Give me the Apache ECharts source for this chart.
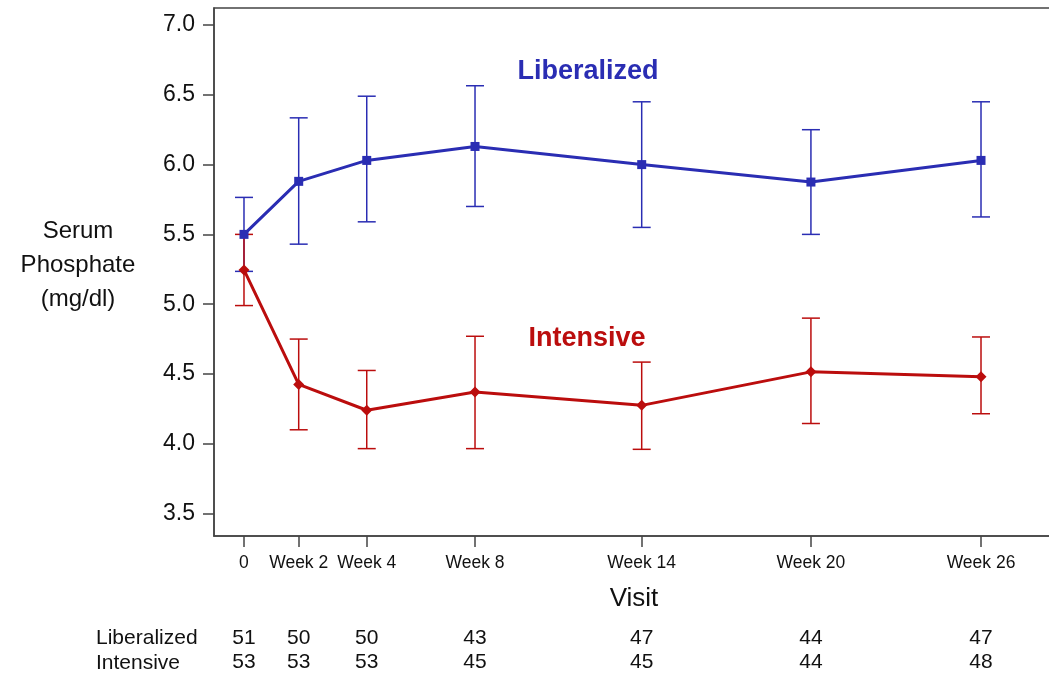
<!DOCTYPE html>
<html>
<head>
<meta charset="utf-8">
<script src="https://cdn.jsdelivr.net/npm/echarts@6/dist/echarts.min.js"></script>
<style>
html,body{margin:0;padding:0;background:#fff;}
#chart{width:1049px;height:676px;}
</style>
</head>
<body>
<div id="chart"></div>
<script>
// ---- data ----
const visitLabels = ['0', 'Week 2', 'Week 4', 'Week 8', 'Week 14', 'Week 20', 'Week 26'];
const visitPos = [0, 1.93, 4.33, 8.15, 14.03, 20, 26];
const libMean = [5.50, 5.88, 6.03, 6.13, 6.00, 5.875, 6.03];
const libLo   = [5.235, 5.43, 5.59, 5.70, 5.55, 5.50, 5.625];
const libHi   = [5.765, 6.335, 6.49, 6.565, 6.45, 6.25, 6.45];
const intMean = [5.245, 4.425, 4.24, 4.37, 4.275, 4.515, 4.48];
const intLo   = [4.99, 4.10, 3.965, 3.965, 3.96, 4.145, 4.215];
const intHi   = [5.50, 4.75, 4.525, 4.77, 4.585, 4.90, 4.765];
const libN = [51, 50, 50, 43, 47, 44, 47];
const intN = [53, 53, 53, 45, 45, 44, 48];
const yTicks = [3.5, 4.0, 4.5, 5.0, 5.5, 6.0, 6.5, 7.0];

const BLUE = '#2a2db3';
const RED = '#bb0d0d';
const FONT = 'Liberation Sans, Arial, sans-serif';

function errRender(color) {
  return function (params, api) {
    const x = api.value(0), lo = api.value(1), hi = api.value(2);
    const pLo = api.coord([x, lo]);
    const pHi = api.coord([x, hi]);
    const w = 9;
    const st = { stroke: color, lineWidth: 1.5, fill: null };
    return {
      type: 'group',
      children: [
        { type: 'line', shape: { x1: pLo[0], y1: pLo[1], x2: pHi[0], y2: pHi[1] }, style: st },
        { type: 'line', shape: { x1: pLo[0] - w, y1: pLo[1], x2: pLo[0] + w, y2: pLo[1] }, style: st },
        { type: 'line', shape: { x1: pHi[0] - w, y1: pHi[1], x2: pHi[0] + w, y2: pHi[1] }, style: st }
      ]
    };
  };
}

const libErr = visitPos.map((x, i) => [x, libLo[i], libHi[i]]);
const intErr = visitPos.map((x, i) => [x, intLo[i], intHi[i]]);
const libLine = visitPos.map((x, i) => [x, libMean[i]]);
const intLine = visitPos.map((x, i) => [x, intMean[i]]);

function lookup(arr) {
  return function (v) {
    for (let i = 0; i < visitPos.length; i++) {
      if (Math.abs(visitPos[i] - v) < 1e-6) return String(arr[i]);
    }
    return '';
  };
}

const xMin = -1.058, xMax = 28.575;
const countAxis = (arr, offset) => ({
  type: 'value', min: xMin, max: xMax, position: 'bottom', offset: offset,
  axisLine: { show: false }, axisTick: { show: false }, splitLine: { show: false },
  axisLabel: {
    customValues: visitPos, formatter: lookup(arr),
    fontFamily: FONT, fontSize: 21, color: '#111', margin: 0
  }
});

const chart = echarts.init(document.getElementById('chart'));
chart.setOption({
  animation: false,
  backgroundColor: '#fff',
  grid: { left: 214, top: 8, right: -5, bottom: 140, outerBoundsMode: 'none', containLabel: false,
          show: true, borderColor: '#444', borderWidth: 1.5, backgroundColor: 'transparent' },
  xAxis: [
    {
      type: 'value', min: xMin, max: xMax, position: 'bottom',
      name: 'Visit', nameLocation: 'middle', nameGap: 50,
      nameTextStyle: { fontFamily: FONT, fontSize: 26, color: '#111' },
      axisLine: { show: true, onZero: false, lineStyle: { color: '#444', width: 1.5 } },
      axisTick: { show: true, customValues: visitPos, length: 11, lineStyle: { color: '#444', width: 1.5 } },
      axisLabel: {
        customValues: visitPos,
        formatter: function (v) {
          for (let i = 0; i < visitPos.length; i++) if (Math.abs(visitPos[i] - v) < 1e-6) return visitLabels[i];
          return '';
        },
        fontFamily: FONT, fontSize: 17.5, color: '#111', margin: 18
      },
      splitLine: { show: false }
    },
    countAxis(libN, 92),
    countAxis(intN, 116)
  ],
  yAxis: {
    type: 'value', min: 3.339, max: 7.122,
    axisLine: { show: true, onZero: false, lineStyle: { color: '#444', width: 1.5 } },
    axisTick: { show: true, customValues: yTicks, length: 11, lineStyle: { color: '#444', width: 1.5 } },
    axisLabel: {
      customValues: yTicks, formatter: v => v.toFixed(1),
      fontFamily: FONT, fontSize: 23, color: '#111', margin: 19
    },
    splitLine: { show: false }
  },
  graphic: [
    { type: 'text', x: 78, y: 265, style: { text: 'Serum\nPhosphate\n(mg/dl)', font: '24px ' + FONT, fill: '#111', align: 'center', verticalAlign: 'middle', lineHeight: 34 } },
    { type: 'text', x: 588, y: 72, style: { text: 'Liberalized', font: 'bold 27px ' + FONT, fill: BLUE, align: 'center', verticalAlign: 'middle' } },
    { type: 'text', x: 587, y: 339, style: { text: 'Intensive', font: 'bold 27px ' + FONT, fill: RED, align: 'center', verticalAlign: 'middle' } },
    { type: 'text', x: 96, y: 638, style: { text: 'Liberalized', font: '21px ' + FONT, fill: '#111', align: 'left', verticalAlign: 'middle' } },
    { type: 'text', x: 96, y: 663, style: { text: 'Intensive', font: '21px ' + FONT, fill: '#111', align: 'left', verticalAlign: 'middle' } }
  ],
  series: [
    { type: 'custom', name: 'Liberalized SE', xAxisIndex: 0, renderItem: errRender(BLUE), data: libErr, z: 2, encode: { x: 0, y: [1, 2] } },
    { type: 'custom', name: 'Intensive SE', xAxisIndex: 0, renderItem: errRender(RED), data: intErr, z: 2, encode: { x: 0, y: [1, 2] } },
    { type: 'line', name: 'Liberalized', xAxisIndex: 0, data: libLine, symbol: 'rect', symbolSize: 9, showAllSymbol: true,
      lineStyle: { color: BLUE, width: 3 }, itemStyle: { color: BLUE }, z: 3 },
    { type: 'line', name: 'Intensive', xAxisIndex: 0, data: intLine, symbol: 'diamond', symbolSize: 11, showAllSymbol: true,
      lineStyle: { color: RED, width: 3 }, itemStyle: { color: RED }, z: 3 }
  ]
});
</script>
</body>
</html>
